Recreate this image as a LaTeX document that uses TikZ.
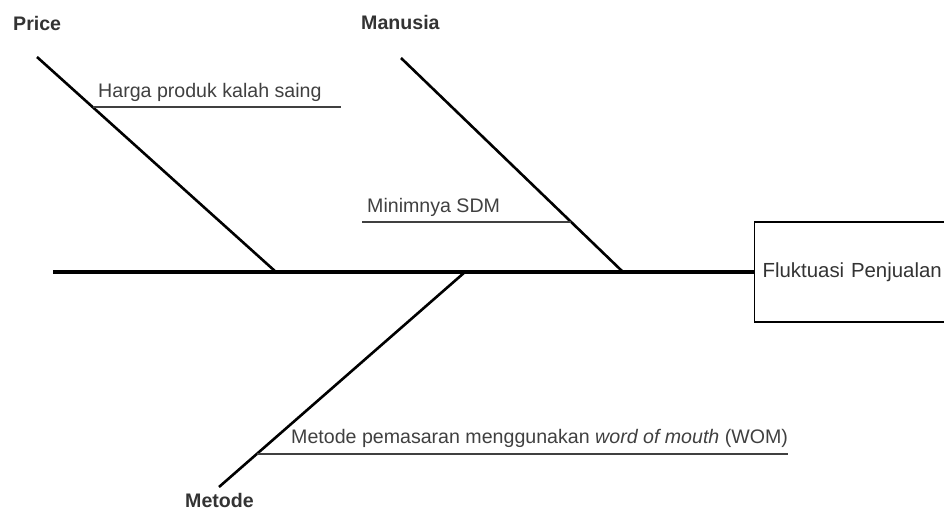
\documentclass[tikz,border=0pt]{standalone}
\usepackage{fontspec}
\setmainfont{Liberation Sans}
\usepackage{tikz}

\begin{document}
\begin{tikzpicture}[x=1pt,y=-1pt,
    cat/.style={font=\fontsize{19.6}{22}\selectfont\bfseries,text=black!80,inner sep=0pt,anchor=base west},
    cause/.style={font=\fontsize{19.6}{22}\selectfont,text=black!75,inner sep=0pt,anchor=base west},
    bone/.style={line width=2.6pt},
    twig/.style={line width=1.3pt,black!75}]
\useasboundingbox (0,0) rectangle (944,511);
\clip (0,0) rectangle (944,511);
% head and spine
\node [draw,line width=1.2pt,anchor=west,minimum height=100pt,text width=190pt,inner xsep=8pt,
       font=\fontsize{20.4}{24}\selectfont,text=black!80] (effect) at (754,272) {Fluktuasi Penjualan};
\coordinate (tail) at (53,272);
\draw [line width=4.6pt] (tail) -- (effect.west);
% Price
\node [cat] (price) at (13,31) {Price};
\coordinate (priceTop) at (37,57);
\coordinate (priceJoin) at (276,272);
\draw [bone] (priceTop) -- (priceJoin);
\coordinate (hargaStart) at (93,107);
\coordinate (hargaEnd) at (341,107);
\draw [twig] (hargaStart) -- (hargaEnd);
\node [cause] (harga) at (98,97) {Harga produk kalah saing};
% Manusia
\node [cat] (manusia) at (361,30) {Manusia};
\coordinate (manusiaTop) at (401,58);
\coordinate (manusiaJoin) at (623,272);
\draw [bone] (manusiaTop) -- (manusiaJoin);
\coordinate (sdmStart) at (362,222);
\coordinate (sdmEnd) at (571,222);
\draw [twig] (sdmStart) -- (sdmEnd);
\node [cause] (sdm) at (367,212) {Minimnya SDM};
% Metode
\node [cat] (metode) at (185,507) {Metode};
\coordinate (metodeJoin) at (465,272);
\coordinate (metodeEnd) at (219,487);
\draw [bone] (metodeJoin) -- (metodeEnd);
\coordinate (womStart) at (257,454);
\coordinate (womEnd) at (788,454);
\draw [twig] (womStart) -- (womEnd);
\node [cause] (wom) at (291,443) {Metode pemasaran menggunakan \textit{word of mouth} (WOM)};
\end{tikzpicture}
\end{document}
